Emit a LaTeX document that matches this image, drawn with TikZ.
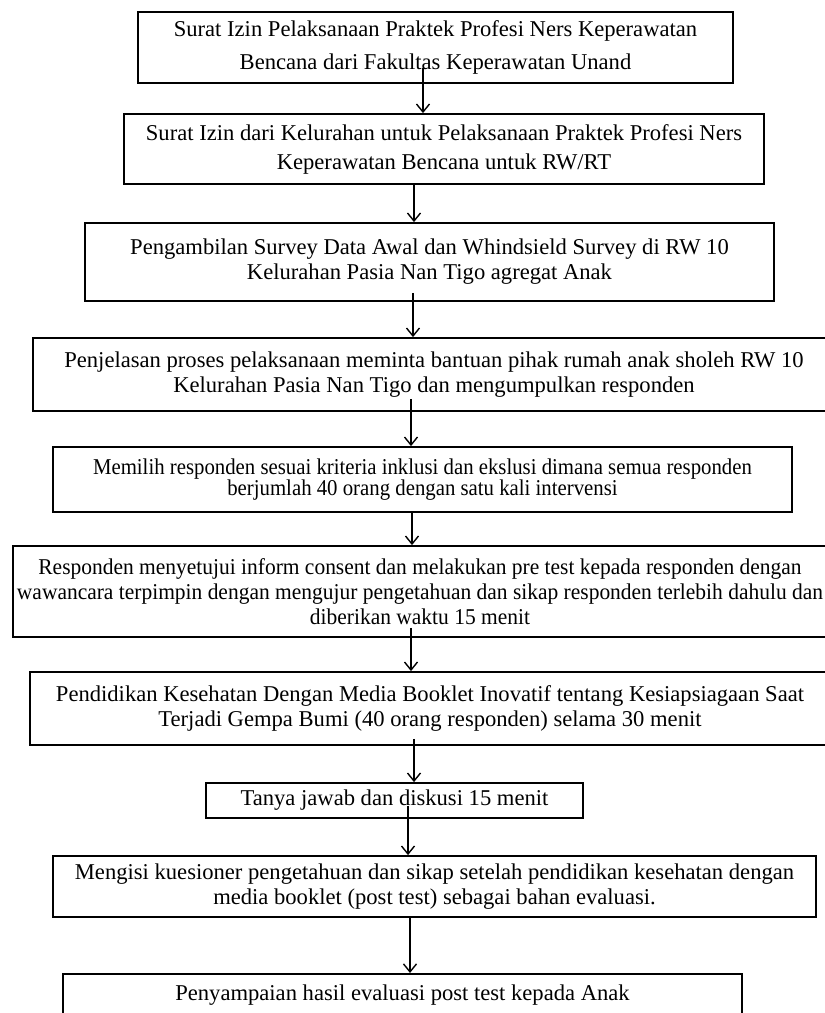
\documentclass[tikz,border=0pt]{standalone}
\usepackage{fontspec}
\setmainfont{Liberation Serif}
\newfontfamily\narrowserif[FakeStretch=0.92]{Liberation Serif}
\newfontfamily\slimserif[FakeStretch=0.95]{Liberation Serif}
\usetikzlibrary{arrows.meta}
\newcommand{\boxfont}[1]{\fontsize{22.6}{#1}\selectfont}

\begin{document}
\begin{tikzpicture}[x = 1pt, y = -1pt,
  box/.style = {draw, line width = 1.8pt, align = center, inner sep = 0pt, font = \boxfont{25}},
  flow/.style = {line width = 1.4pt, -{Straight Barb[length = 8pt, width = 13pt, line width = 1.4pt]}}]

\useasboundingbox (0, 0) rectangle (825, 1013);
\clip (0, 0) rectangle (825, 1013);

\node (izin) [box, font = \boxfont{33}, minimum width = 595pt, minimum height = 71pt] at (435.5, 47.5)
  {Surat Izin Pelaksanaan Praktek Profesi Ners Keperawatan\\Bencana dari Fakultas Keperawatan Unand};
\node (kelurahan) [box, font = \boxfont{29}, minimum width = 640pt, minimum height = 70pt] at (444, 149)
  {Surat Izin dari Kelurahan untuk Pelaksanaan Praktek Profesi Ners\\Keperawatan Bencana untuk RW/RT};
\node (survey) [box, minimum width = 689pt, minimum height = 78pt] at (429.5, 262)
  {Pengambilan Survey Data Awal dan Whindsield Survey di RW 10\\Kelurahan Pasia Nan Tigo agregat Anak};
\node (penjelasan) [box, minimum width = 802pt, minimum height = 73pt] at (434, 374.5)
  {Penjelasan proses pelaksanaan meminta bantuan pihak rumah anak sholeh RW 10\\Kelurahan Pasia Nan Tigo dan mengumpulkan responden};
\node (memilih) [box, font = {\narrowserif\boxfont{21}}, minimum width = 739pt, minimum height = 65pt] at (422.5, 479.5)
  {Memilih responden sesuai kriteria inklusi dan ekslusi dimana semua responden\\berjumlah 40 orang dengan satu kali intervensi};
\node (consent) [box, font = {\slimserif\boxfont{25}}, minimum width = 814pt, minimum height = 91pt] at (420, 591.5)
  {Responden menyetujui inform consent dan melakukan pre test kepada responden dengan\\wawancara terpimpin dengan mengujur pengetahuan dan sikap responden terlebih dahulu dan\\diberikan waktu 15 menit};
\node (pendidikan) [box, minimum width = 800pt, minimum height = 73pt] at (430, 708.5)
  {Pendidikan Kesehatan Dengan Media Booklet Inovatif tentang Kesiapsiagaan Saat\\Terjadi Gempa Bumi (40 orang responden) selama 30 menit};
\node (tanya) [box, minimum width = 377pt, minimum height = 35pt] at (394.5, 800.5)
  {Tanya jawab dan diskusi 15 menit};
\node (mengisi) [box, minimum width = 763pt, minimum height = 61pt] at (434.5, 886.5)
  {Mengisi kuesioner pengetahuan dan sikap setelah pendidikan kesehatan dengan\\media booklet (post test) sebagai bahan evaluasi.};
\node (hasil) [box, anchor = north, text height = 27pt, text depth = 50pt, minimum width = 679pt] at (402.5, 973)
  {Penyampaian hasil evaluasi post test kepada Anak};

% arrows between the steps
\draw [flow] ([xshift = -12.5pt, yshift = 16pt]izin.south) -- ([xshift = -21pt]kelurahan.north);
\draw [flow] ([xshift = -30pt]kelurahan.south) -- ([xshift = -15.5pt]survey.north);
\draw [flow] ([xshift = -16.5pt, yshift = 9pt]survey.south) -- ([xshift = -21pt]penjelasan.north);
\draw [flow] ([xshift = -23pt, yshift = 13pt]penjelasan.south) -- ([xshift = -11.5pt]memilih.north);
\draw [flow] ([xshift = -10.5pt]memilih.south) -- ([xshift = -8pt]consent.north);
\draw [flow] ([xshift = -9pt, yshift = 10pt]consent.south) -- ([xshift = -19pt]pendidikan.north);
\draw [flow] ([xshift = -16pt, yshift = 7pt]pendidikan.south) -- ([xshift = 19.5pt]tanya.north);
\draw [flow] ([xshift = 13.5pt, yshift = 13pt]tanya.south) -- ([xshift = -26.5pt]mengisi.north);
\draw [flow] ([xshift = -24.5pt]mengisi.south) -- ([xshift = 7.5pt]hasil.north);
\end{tikzpicture}
\end{document}
